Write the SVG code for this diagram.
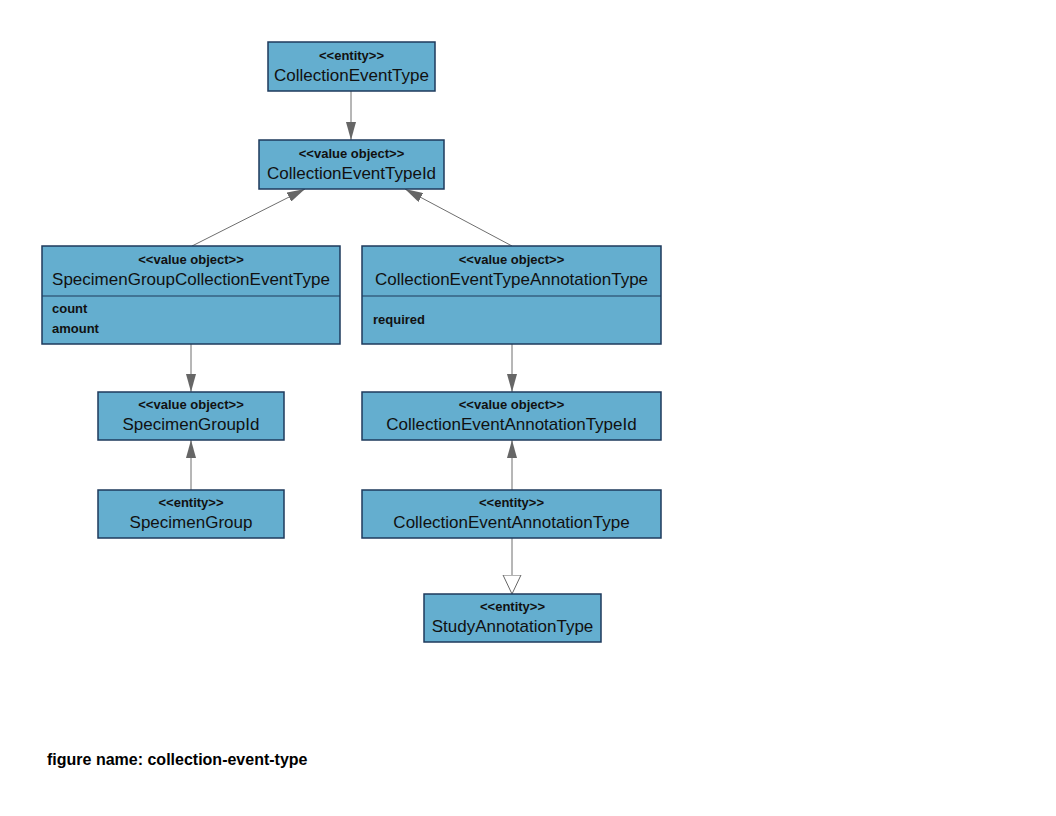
<svg xmlns="http://www.w3.org/2000/svg" width="1056" height="816" viewBox="0 0 1056 816">
<style>
.box{fill:#64AECF;stroke:#1E3A5C;stroke-width:1.5}
.div{stroke:#1E3A5C;stroke-width:1.2}
.st{font-family:"Liberation Sans",Arial,sans-serif;font-size:13px;fill:#111;text-anchor:middle;font-weight:bold}
.nm{font-family:"Liberation Sans",Arial,sans-serif;font-size:17px;fill:#111;text-anchor:middle}
.at{font-family:"Liberation Sans",Arial,sans-serif;font-size:13px;fill:#111;font-weight:bold}
.ln{stroke:#6E6E6E;stroke-width:1;fill:none}
.cap{font-family:"Liberation Sans",Arial,sans-serif;font-size:16px;fill:#000;font-weight:bold}
</style>
<defs>
<marker id="fa2" viewBox="0 0 18 10" refX="18" refY="5" markerWidth="18" markerHeight="10" markerUnits="userSpaceOnUse" orient="auto">
<path d="M0,0 L18,5 L0,10 z" fill="#666"/>
</marker>
<marker id="ht" viewBox="0 0 20 20" refX="19" refY="10" markerWidth="20" markerHeight="20" markerUnits="userSpaceOnUse" orient="auto">
<path d="M0,1 L19,10 L0,19 z" fill="#fff" stroke="#666" stroke-width="1"/>
</marker>
</defs>
<rect width="1056" height="816" fill="#fff"/>
<g id="connectors">
<line class="ln" x1="351" y1="91" x2="351" y2="140" marker-end="url(#fa2)"/>
<line class="ln" x1="192" y1="246" x2="305" y2="189" marker-end="url(#fa2)"/>
<line class="ln" x1="512" y1="246" x2="405" y2="189" marker-end="url(#fa2)"/>
<line class="ln" x1="191" y1="344" x2="191" y2="392" marker-end="url(#fa2)"/>
<line class="ln" x1="512" y1="344" x2="512" y2="392" marker-end="url(#fa2)"/>
<line class="ln" x1="191" y1="490" x2="191" y2="440" marker-end="url(#fa2)"/>
<line class="ln" x1="512" y1="490" x2="512" y2="440" marker-end="url(#fa2)"/>
<line class="ln" x1="512" y1="538" x2="512" y2="594" marker-end="url(#ht)"/>
</g>
<g id="CollectionEventType">
<rect class="box" x="268" y="42" width="167" height="49"/>
<text class="st" x="351.5" y="60">&lt;&lt;entity&gt;&gt;</text>
<text class="nm" x="351.5" y="81">CollectionEventType</text>
</g>
<g id="CollectionEventTypeId">
<rect class="box" x="259" y="140" width="185" height="49"/>
<text class="st" x="351.5" y="158">&lt;&lt;value object&gt;&gt;</text>
<text class="nm" x="351.5" y="179">CollectionEventTypeId</text>
</g>
<g id="SpecimenGroupCollectionEventType">
<rect class="box" x="42" y="246" width="298" height="98"/>
<line class="div" x1="42" y1="296" x2="340" y2="296"/>
<text class="st" x="191" y="264">&lt;&lt;value object&gt;&gt;</text>
<text class="nm" x="191" y="285">SpecimenGroupCollectionEventType</text>
<text class="at" x="52" y="313">count</text>
<text class="at" x="52" y="333">amount</text>
</g>
<g id="CollectionEventTypeAnnotationType">
<rect class="box" x="362" y="246" width="299" height="98"/>
<line class="div" x1="362" y1="296" x2="661" y2="296"/>
<text class="st" x="511.5" y="264">&lt;&lt;value object&gt;&gt;</text>
<text class="nm" x="511.5" y="285">CollectionEventTypeAnnotationType</text>
<text class="at" x="373" y="324">required</text>
</g>
<g id="SpecimenGroupId">
<rect class="box" x="98" y="392" width="186" height="48"/>
<text class="st" x="191" y="409">&lt;&lt;value object&gt;&gt;</text>
<text class="nm" x="191" y="430">SpecimenGroupId</text>
</g>
<g id="CollectionEventAnnotationTypeId">
<rect class="box" x="362" y="392" width="299" height="48"/>
<text class="st" x="511.5" y="409">&lt;&lt;value object&gt;&gt;</text>
<text class="nm" x="511.5" y="430">CollectionEventAnnotationTypeId</text>
</g>
<g id="SpecimenGroup">
<rect class="box" x="98" y="490" width="186" height="48"/>
<text class="st" x="191" y="507">&lt;&lt;entity&gt;&gt;</text>
<text class="nm" x="191" y="528">SpecimenGroup</text>
</g>
<g id="CollectionEventAnnotationType">
<rect class="box" x="362" y="490" width="299" height="48"/>
<text class="st" x="511.5" y="507">&lt;&lt;entity&gt;&gt;</text>
<text class="nm" x="511.5" y="528">CollectionEventAnnotationType</text>
</g>
<g id="StudyAnnotationType">
<rect class="box" x="424" y="594" width="177" height="48"/>
<text class="st" x="512.5" y="611">&lt;&lt;entity&gt;&gt;</text>
<text class="nm" x="512.5" y="632">StudyAnnotationType</text>
</g>
<text class="cap" x="47" y="765">figure name: collection-event-type</text>
</svg>
